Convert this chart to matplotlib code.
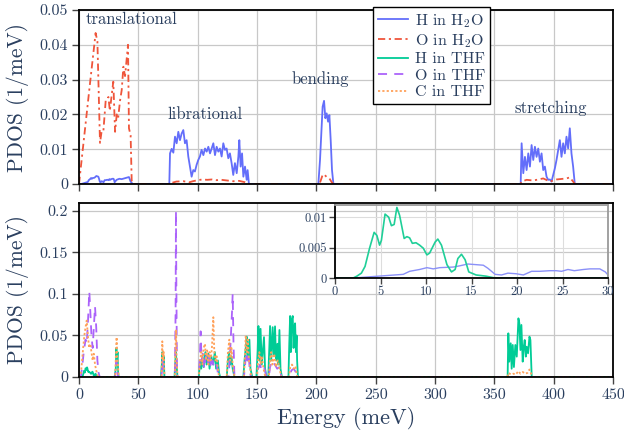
"""
PDOS of water and THF: partial phonon density of states, two stacked panels
plus an inset zoom of the low-energy H spectra.
"""

import matplotlib
matplotlib.use("Agg")
import matplotlib.pyplot as plt
import matplotlib.ticker as mticker

# ---------------------------------------------------------------------------
# Data
# ---------------------------------------------------------------------------

# H in H2O (top panel; also the faint blue curve of the inset)
e_h_h2o = [0, 2, 3.8, 5.7, 7.5, 8.2, 9.3, 10.1, 10.8, 11.5, 13.0, 13.7, 14.6,
           15.5, 16.3, 16.8, 17.6, 18.3, 19.0, 19.9, 20.7, 21.6, 22.5, 23.6,
           24.3, 24.9, 25.6, 26.3, 27.3, 28.0, 29.1, 29.7, 30.0, 31.7, 34.0,
           36.0, 38.0, 40.2, 42.1, 43.5, 45.2,
           76.1, 76.7, 78.1, 79.5, 80.9, 82.3, 83.7, 85.1, 86.5, 87.9, 89.3,
           90.7, 92.1, 93.5, 94.9, 96.3, 97.7, 99.1, 100.5, 101.9, 103.3,
           104.8, 106.2, 107.6, 109.0, 110.4, 111.8, 113.2, 114.6, 116.0,
           117.4, 118.8, 120.2, 121.6, 123.0, 124.4, 125.8, 127.2, 128.6,
           130.0, 131.4, 132.9, 134.3, 135.1, 136.2, 137.4, 138.5, 139.9,
           141.3, 142.1, 143.2,
           201.7, 203.1, 204.5, 205.3, 206.5, 207.6, 208.7, 209.9, 211.0,
           212.1, 213.2, 214.4,
           372.2, 373.0, 374.4, 375.8, 377.2, 378.6, 380.0, 381.4, 382.8,
           384.2, 385.6, 387.0, 388.4, 389.8, 391.2, 392.6, 394.0, 395.4,
           396.8, 398.2, 399.6, 401.0, 402.4, 403.8, 405.2, 406.6, 408.0,
           409.4, 410.8, 412.2, 413.6, 415.0, 416.4, 417.8, 450]
pdos_h_h2o = [0, 0, 0.0002, 0.0004, 0.0006, 0.0011, 0.0014, 0.0017, 0.0015,
              0.0017, 0.0018, 0.0020, 0.0023, 0.0022, 0.0021, 0.0016, 0.0006,
              0.0005, 0.0008, 0.0007, 0.0005, 0.0011, 0.0011, 0.0012, 0.0012,
              0.0011, 0.0014, 0.0012, 0.0014, 0.0015, 0.0015, 0.0010, 0.0005,
              0.0012, 0.0015, 0.0014, 0.0016, 0.0018, 0.0020, 0.0007, 0,
              0, 0.0088, 0.0101, 0.0090, 0.0136, 0.0117, 0.0150, 0.0126,
              0.0145, 0.0155, 0.0117, 0.0126, 0.0079, 0.0050, 0.0021, 0.0040,
              0.0036, 0.0055, 0.0069, 0.0079, 0.0098, 0.0083, 0.0102, 0.0093,
              0.0107, 0.0088, 0.0102, 0.0117, 0.0083, 0.0107, 0.0093, 0.0102,
              0.0079, 0.0117, 0.0098, 0.0102, 0.0074, 0.0088, 0.0060, 0.0026,
              0.0060, 0.0031, 0.0079, 0.0126, 0.0050, 0.0088, 0.0021, 0.0050,
              0.0012, 0.0040, 0,
              0, 0.0069, 0.0165, 0.0222, 0.0239, 0.0189, 0.0203, 0.0179,
              0.0198, 0.0126, 0.0040, 0,
              0, 0.0117, 0.0031, 0.0078, 0.0040, 0.0088, 0.0050, 0.0112,
              0.0069, 0.0107, 0.0078, 0.0102, 0.0064, 0.0088, 0.0040, 0.0050,
              0.0021, 0.0012, 0.0013, 0.0007, 0.0026, 0.0045, 0.0069, 0.0098,
              0.0126, 0.0078, 0.0117, 0.0088, 0.0136, 0.0102, 0.0160, 0.0088,
              0.0050, 0, 0]

# O in H2O
e_o_h2o = [0, 9.3, 14.0, 15.5, 17.7, 19.0, 20.5, 22.5, 24.8, 26.0, 27.7,
           28.9, 30.4, 31.8, 33.0, 34.6, 36.0, 37.4, 38.8, 40.2, 41.3, 42.1,
           43.5, 44.4, 45.5,
           76.5, 78, 82, 88, 93, 96, 100, 104, 108, 112, 116, 120, 125, 130,
           135, 140, 143,
           201.5, 203.1, 205.3, 206.5, 208.7, 211.0, 213.0, 214.4,
           372.0, 373.0, 377.2, 382.8, 391.2, 396.8, 402.4, 410.8, 413.6,
           416.4, 417.8, 450]
pdos_o_h2o = [0, 0.0290, 0.0434, 0.0410, 0.0118, 0.0150, 0.0150, 0.0240,
              0.0250, 0.0210, 0.0260, 0.0294, 0.0150, 0.0200, 0.0190, 0.0240,
              0.0270, 0.0337, 0.0310, 0.0360, 0.0400, 0.0160, 0.0140, 0.0010,
              0,
              0, 0.0003, 0.0007, 0.0008, 0.0005, 0.0008, 0.0011, 0.0013,
              0.0012, 0.0013, 0.0011, 0.0012, 0.0010, 0.0008, 0.0009, 0.0005,
              0,
              0, 0.0004, 0.0026, 0.0028, 0.0020, 0.0016, 0.0005, 0,
              0, 0.0007, 0.0012, 0.0010, 0.0016, 0.0007, 0.0013, 0.0016,
              0.0019, 0.0007, 0, 0]

# H in THF (bottom panel; green curve of the inset)
e_h_thf = [0, 2, 2.4, 2.9, 3.3, 3.8, 4.3, 4.6, 4.9, 5.1, 5.5, 5.9, 6.2, 6.5,
           6.8, 7.1, 7.6, 7.9, 8.2, 8.5, 8.9, 9.3, 9.7, 10.1, 10.4, 11.0,
           11.3, 11.7, 12.3, 12.8, 13.2, 13.5, 13.9, 14.3, 14.7, 15.5, 16.6,
           17.4, 18.1,
           30, 31, 31.5, 32, 32.5, 33, 33.5,
           69, 69.8, 70.3, 70.8, 71.3, 72,
           80.5, 81.2, 81.7, 82.2, 83,
           101, 102, 103, 104, 105, 106.5, 107.5, 109, 110, 111.5, 113, 114.5,
           115.5, 117, 118, 119,
           124.5, 125.5, 126.5, 127.5, 128.5, 129.5, 131,
           138.5, 139.5, 140.5, 141.3, 142, 143.6, 144.5, 146,
           149.5, 150.5, 151.2, 152, 153, 154, 155.9, 156.8, 158,
           159.5, 160.2, 161, 162, 163.2, 164.2, 165.2, 166, 167.2, 168,
           168.9, 169.8, 171,
           176.5, 177.2, 177.9, 178.5, 179.2, 180.1, 180.8, 181.4, 182.1,
           182.8, 183.4, 183.8, 184.5,
           361.2, 361.8, 362.6, 363.8, 364.6, 365.5, 366.5, 367.7, 368.9,
           370.3, 371.1, 372.0, 372.8, 373.9, 374.8, 375.6, 376.5, 377.3,
           378.4, 379.6, 380.4, 381.5, 450]
pdos_h_thf = [0, 0, 0.0003, 0.0008, 0.0019, 0.0049, 0.0075, 0.0070, 0.0054,
              0.0062, 0.0105, 0.0100, 0.0086, 0.0088, 0.0116, 0.0103, 0.0065,
              0.0068, 0.0066, 0.0057, 0.0058, 0.0054, 0.0049, 0.0038, 0.0041,
              0.0059, 0.0064, 0.0054, 0.0022, 0.0010, 0.0014, 0.0032, 0.0039,
              0.0030, 0.0010, 0.0005, 0.0003, 0.00005, 0,
              0, 0.010, 0.035, 0.020, 0.030, 0.005, 0,
              0, 0.015, 0.030, 0.012, 0.025, 0,
              0, 0.020, 0.030, 0.015, 0,
              0, 0.020, 0.010, 0.025, 0.012, 0.030, 0.015, 0.028, 0.010,
              0.025, 0.015, 0.030, 0.010, 0.020, 0.005, 0,
              0, 0.020, 0.030, 0.015, 0.025, 0.010, 0,
              0, 0.020, 0.035, 0.0486, 0.020, 0.045, 0.010, 0,
              0, 0.030, 0.0614, 0.020, 0.058, 0.015, 0.048, 0.010, 0,
              0, 0.030, 0.0614, 0.020, 0.060, 0.025, 0.061, 0.020, 0.040,
              0.015, 0.0566, 0.010, 0,
              0, 0.040, 0.0735, 0.030, 0.068, 0.0735, 0.035, 0.060, 0.0647,
              0.030, 0.050, 0.020, 0,
              0, 0.0526, 0.0185, 0.0406, 0.010, 0.0386, 0.012, 0.0386, 0.0245,
              0.0707, 0.0647, 0.0325, 0.0627, 0.0185, 0.0365, 0.0446, 0.0245,
              0.0365, 0.0285, 0.0486, 0.0446, 0, 0]

# O in THF
e_o_thf = [0, 1.5, 2.5, 4, 5.5, 6.5, 7.5, 8.7, 9.5, 10.5, 11.5, 12.5, 13.5,
           14.5, 15.5, 16.5, 17.5,
           30.5, 31.5, 32.2, 33,
           69.5, 70.5, 71.5,
           80.8, 81.4, 81.7, 82.0, 82.6,
           101, 102, 102.5, 103.3, 104.5, 105.5, 107, 108.5, 110, 111, 112.5,
           114, 116, 117.5,
           126, 127, 128, 129, 129.5, 130.2, 131,
           139, 140, 141, 142, 143, 144, 145,
           150, 151, 152.5, 154, 156, 158, 160, 161, 163, 165, 167, 169, 170.5,
           177.5, 179, 181, 183, 184.5, 450]
pdos_o_thf = [0, 0, 0.010, 0.030, 0.045, 0.040, 0.065, 0.103, 0.080, 0.050,
              0.035, 0.060, 0.085, 0.060, 0.020, 0.005, 0,
              0, 0.020, 0.010, 0,
              0, 0.020, 0,
              0, 0.080, 0.200, 0.120, 0,
              0, 0.030, 0.055, 0.020, 0.030, 0.010, 0.025, 0.015, 0.030,
              0.010, 0.020, 0.010, 0.015, 0,
              0, 0.020, 0.050, 0.080, 0.100, 0.040, 0,
              0, 0.015, 0.030, 0.020, 0.028, 0.005, 0,
              0, 0.010, 0.015, 0.008, 0.012, 0, 0, 0.012, 0.020, 0.015,
              0.010, 0.012, 0,
              0, 0.008, 0.010, 0.005, 0, 0]

# C in THF
e_c_thf = [0, 1, 2, 3.5, 4.5, 5.5, 6.5, 7.5, 8.5, 9.5, 10.5, 11.5, 12.5,
           13.5, 14.5, 16,
           30.5, 31.2, 31.7, 32.2, 32.8, 33.5,
           69.5, 70.2, 70.8, 71.4, 72,
           80.8, 81.4, 81.8, 82.3, 83,
           101, 102, 103, 104, 105, 106.2, 107, 108, 109, 110, 111, 112,
           113.2, 114, 115, 116, 117, 118,
           124.5, 125.5, 126.7, 127.5, 128.5, 129.5, 131,
           139, 140, 140.5, 141.5, 142.3, 143.2, 144, 145,
           150, 151, 152, 153, 154, 155.5, 157, 160, 161, 162, 163, 164.5,
           166, 167.5, 169, 170.5,
           177, 178, 179.5, 181, 182.5, 184,
           361, 362, 364, 366, 368, 370.3, 372, 374, 376, 378, 379.6, 381,
           382, 450]
pdos_c_thf = [0, 0, 0.010, 0.035, 0.050, 0.060, 0.068, 0.050, 0.035, 0.040,
              0.030, 0.020, 0.028, 0.015, 0.008, 0,
              0, 0.030, 0.048, 0.025, 0.015, 0,
              0, 0.043, 0.020, 0.030, 0,
              0, 0.040, 0.057, 0.020, 0,
              0, 0.020, 0.030, 0.015, 0.035, 0.040, 0.020, 0.032, 0.015,
              0.030, 0.020, 0.035, 0.072, 0.030, 0.020, 0.025, 0.010, 0,
              0, 0.030, 0.045, 0.020, 0.035, 0.015, 0,
              0, 0.030, 0.050, 0.030, 0.045, 0.020, 0.015, 0,
              0, 0.020, 0.030, 0.015, 0.025, 0.010, 0, 0, 0.020, 0.030,
              0.015, 0.028, 0.012, 0.020, 0.010, 0,
              0, 0.012, 0.015, 0.010, 0.013, 0,
              0, 0.005, 0.003, 0.004, 0.003, 0.007, 0.004, 0.006, 0.004,
              0.005, 0.009, 0.004, 0, 0]

# Mode labels in the top panel: (text, energy, pdos)
mode_labels = [("translational", 5.9, 0.0474),
               ("librational", 74.2, 0.0201),
               ("bending", 179.5, 0.0302),
               ("stretching", 367.4, 0.0218)]

# ---------------------------------------------------------------------------
# Styling
# ---------------------------------------------------------------------------

_TEXT = "#2a3f5f"
_GRID = "#c8c8c8"
_BLUE = "#636efa"
_RED = "#ef553b"
_GREEN = "#00cc96"
_PURPLE = "#ab63fa"
_ORANGE = "#ffa15a"

plt.rcParams.update({
    "font.family": ["cmr10", "DejaVu Serif"],
    "mathtext.fontset": "cm",
    "axes.formatter.use_mathtext": True,
    "text.color": _TEXT,
    "xtick.color": "#444444",
    "ytick.color": "#444444",
    "xtick.labelcolor": _TEXT,
    "ytick.labelcolor": _TEXT,
    "xtick.direction": "out",
    "ytick.direction": "out",
    "axes.edgecolor": "black",
    "axes.linewidth": 1.3,
})

fmt_g = mticker.FuncFormatter(lambda v, _: f"{v:g}")


def style_axes(ax, ystep, show_xlabels=True, size=11.5):
    ax.set_xlim(0, 450)
    ax.xaxis.set_major_locator(mticker.MultipleLocator(50))
    ax.yaxis.set_major_locator(mticker.MultipleLocator(ystep))
    ax.yaxis.set_major_formatter(fmt_g)
    ax.xaxis.set_major_formatter(fmt_g)
    ax.grid(True, color=_GRID, linewidth=0.9)
    ax.set_axisbelow(True)
    ax.tick_params(length=5, width=1, labelsize=size, pad=3,
                   labelbottom=show_xlabels)


fig = plt.figure(figsize=(6.24, 4.41), dpi=100)

# --- top panel: water ------------------------------------------------------
ax_top = fig.add_axes([79 / 624, 1 - 184 / 441, 534 / 624, 174 / 441])
l_h_h2o, = ax_top.plot(e_h_h2o, pdos_h_h2o, color=_BLUE, lw=1.3,
                       label=r"H in H$_2$O")
l_o_h2o, = ax_top.plot(e_o_h2o, pdos_o_h2o, color=_RED, lw=1.3,
                       dashes=(4, 2, 1.2, 2), label=r"O in H$_2$O")
ax_top.set_ylim(0, 0.05)
style_axes(ax_top, 0.01, show_xlabels=False)
for text, e, v in mode_labels:
    ax_top.text(e, v, text, fontsize=12, ha="left", va="center", color=_TEXT)

# --- bottom panel: THF -----------------------------------------------------
ax_bot = fig.add_axes([79 / 624, 1 - 377 / 441, 534 / 624, 174 / 441])
l_h_thf, = ax_bot.plot(e_h_thf, pdos_h_thf, color=_GREEN, lw=1.3,
                       label="H in THF")
l_o_thf, = ax_bot.plot(e_o_thf, pdos_o_thf, color=_PURPLE, lw=1.3,
                       dashes=(5, 4), label="O in THF")
l_c_thf, = ax_bot.plot(e_c_thf, pdos_c_thf, color=_ORANGE, lw=1.3,
                       dashes=(1.2, 1.2), label="C in THF")
ax_bot.set_ylim(0, 0.2096)
style_axes(ax_bot, 0.05)

# --- inset: low-energy H ---------------------------------------------------
ax_in = fig.add_axes([335 / 624, 1 - 278 / 441, 273 / 624, 73 / 441])
ax_in.patch.set_alpha(0)
ax_in.plot(e_h_h2o, pdos_h_h2o, color="#8a90f8", lw=1.0)
ax_in.plot(e_h_thf, pdos_h_thf, color="#1fcf98", lw=1.2)
ax_in.set_xlim(0, 30)
ax_in.set_ylim(0, 0.012)
ax_in.xaxis.set_major_locator(mticker.MultipleLocator(5))
ax_in.yaxis.set_major_locator(mticker.MultipleLocator(0.005))
ax_in.xaxis.set_major_formatter(fmt_g)
ax_in.yaxis.set_major_formatter(fmt_g)
ax_in.grid(True, color="#dddddd", linewidth=0.8)
ax_in.tick_params(length=4, width=1, labelsize=9, pad=2)
for side in ("top", "right"):
    ax_in.spines[side].set_color("#9a9a9a")

# --- labels & legend -------------------------------------------------------
fig.text(18 / 624, 1 - 97 / 441, "PDOS (1/meV)", rotation=90,
         ha="center", va="center", fontsize=15.5, color=_TEXT)
fig.text(18 / 624, 1 - 290 / 441, "PDOS (1/meV)", rotation=90,
         ha="center", va="center", fontsize=15.5, color=_TEXT)
fig.text(346 / 624, 1 - 418 / 441, "Energy (meV)", ha="center", va="center",
         fontsize=16, color=_TEXT)

leg = fig.legend(handles=[l_h_h2o, l_o_h2o, l_h_thf, l_o_thf, l_c_thf],
                 loc="upper left", bbox_to_anchor=(373 / 624, 1 - 7 / 441),
                 fontsize=11.5, frameon=True, fancybox=False, framealpha=1,
                 edgecolor="black", borderpad=0.3, labelspacing=0.15,
                 handlelength=1.9, handletextpad=0.4, borderaxespad=0)
leg.get_frame().set_linewidth(1.0)
for t in leg.get_texts():
    t.set_color(_TEXT)

fig.savefig("out.png", dpi=100)
